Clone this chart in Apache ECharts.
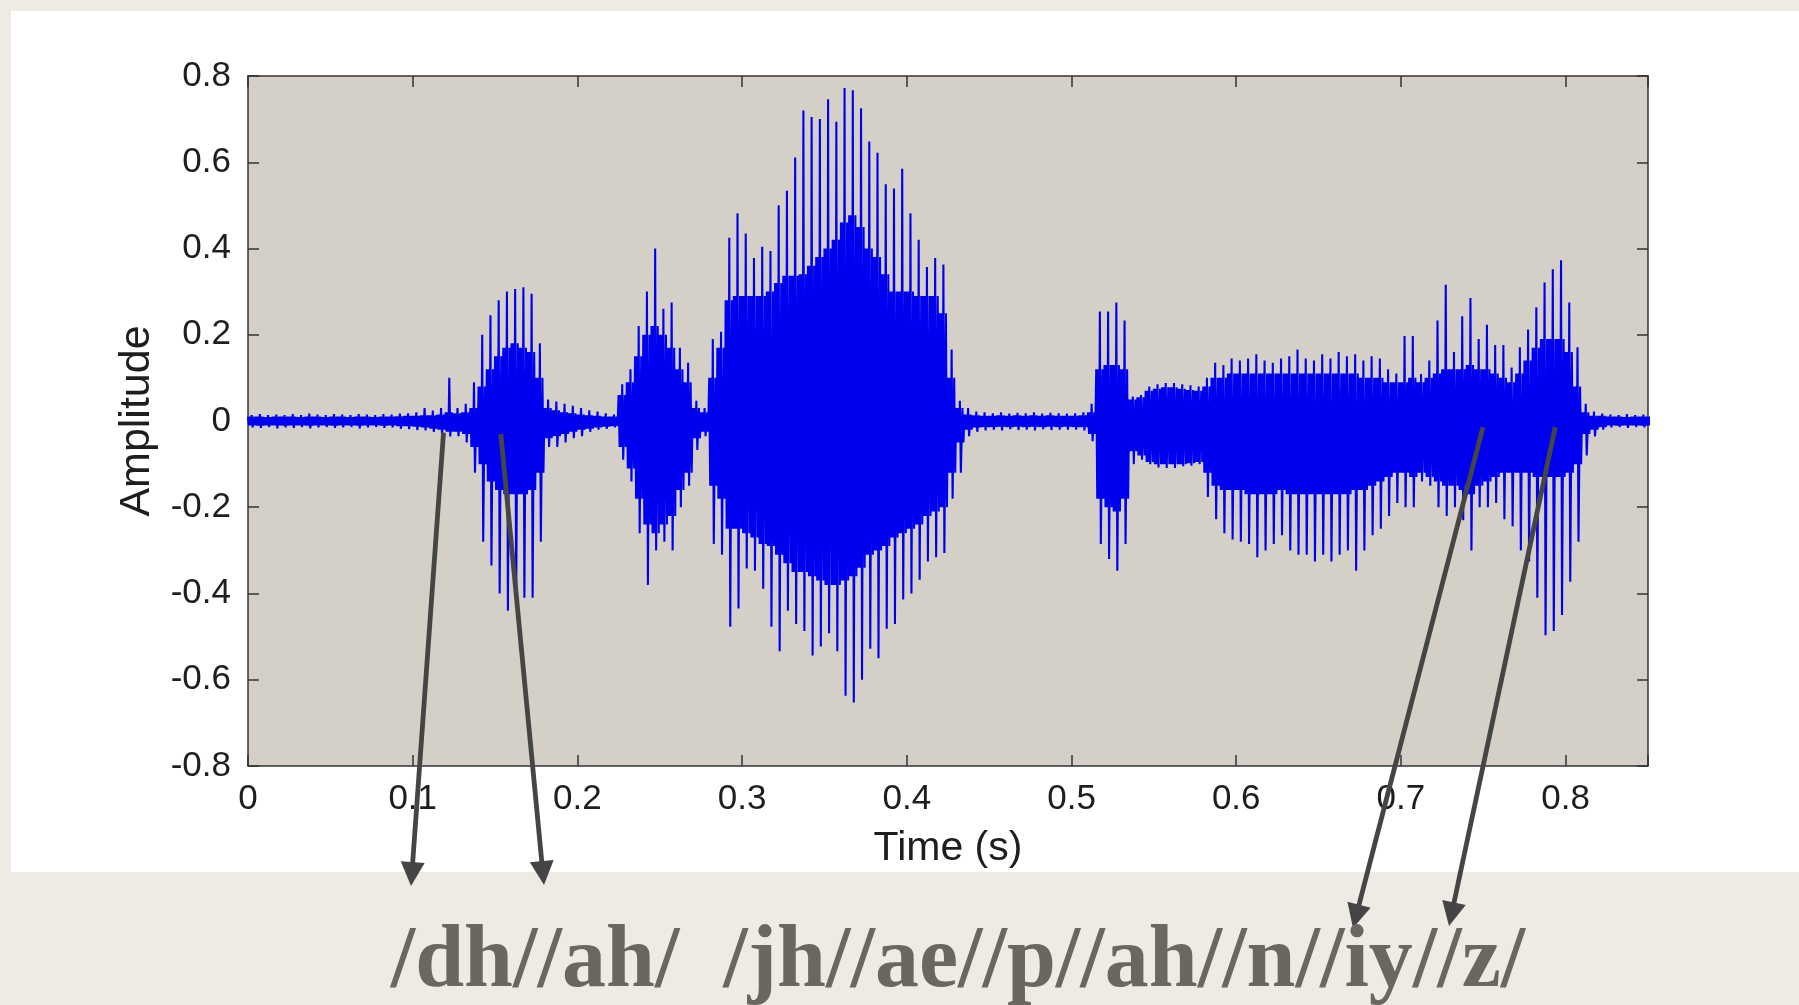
<!DOCTYPE html>
<html><head><meta charset="utf-8">
<script src="https://cdn.jsdelivr.net/npm/echarts@6/dist/echarts.min.js"></script>
<style>
html,body{margin:0;padding:0;width:1799px;height:1005px;overflow:hidden;background:#eeebe5;}
#panel{position:absolute;left:11px;top:11px;width:1788px;height:861px;background:#ffffff;}
#chart{position:absolute;left:0;top:0;width:1799px;height:1005px;}
</style></head>
<body><div id="panel"></div><div id="chart"></div>
<script>
// ---- data ----
const binWidth = 0.005; // seconds per bin, bins start at t = 0
const upPeak = [
.014,.016,.014,.015,.014,.016,.014,.017,.015,.014,
.016,.015,.014,.016,.015,.014,.016,.015,.017,.018,
.020,.030,.024,.030,.100,.030,.040,.090,.200,.245,
.280,.300,.306,.310,.295,.180,.050,.045,.040,.035,
.030,.025,.022,.018,.015,.085,.120,.220,.300,.400,
.260,.275,.170,.135,.047,.030,.190,.207,.425,.482,
.435,.378,.404,.394,.500,.534,.611,.720,.705,.700,
.746,.694,.772,.767,.725,.648,.622,.549,.539,.585,
.482,.420,.357,.378,.363,.166,.047,.030,.022,.020,
.018,.020,.017,.019,.018,.020,.017,.019,.018,.017,
.018,.020,.040,.254,.254,.275,.233,.057,.060,.080,
.085,.088,.088,.085,.083,.080,.100,.135,.130,.145,
.140,.145,.155,.140,.135,.145,.150,.166,.145,.140,
.155,.145,.160,.150,.155,.140,.150,.145,.120,.110,
.197,.197,.109,.140,.233,.316,.160,.243,.285,.190,
.223,.176,.176,.124,.171,.212,.264,.321,.352,.373,
.275,.171,.040,.022,.017,.015,.014,.016,.014,.015,
.014];
const upBody = [
.010,.010,.009,.010,.010,.010,.009,.010,.010,.009,
.010,.010,.009,.010,.010,.009,.010,.010,.011,.012,
.012,.013,.013,.015,.020,.018,.020,.030,.080,.120,
.150,.170,.180,.170,.160,.100,.030,.025,.020,.018,
.015,.013,.012,.010,.010,.060,.090,.150,.200,.220,
.200,.170,.120,.090,.030,.020,.100,.170,.280,.290,
.290,.290,.290,.300,.320,.337,.337,.340,.360,.380,
.400,.420,.460,.477,.450,.400,.380,.340,.300,.300,
.300,.290,.290,.290,.250,.100,.030,.015,.013,.012,
.012,.013,.012,.013,.012,.013,.012,.013,.012,.012,
.012,.013,.020,.120,.130,.130,.120,.050,.055,.070,
.075,.078,.078,.075,.072,.070,.080,.100,.100,.110,
.110,.110,.110,.110,.110,.110,.110,.110,.110,.110,
.110,.110,.110,.110,.110,.100,.100,.100,.090,.090,
.090,.100,.090,.100,.110,.120,.120,.120,.130,.120,
.120,.110,.100,.090,.110,.140,.170,.190,.190,.190,
.160,.080,.020,.012,.012,.010,.010,.009,.010,.010,
.010];
const loBody = [
-.010,-.011,-.010,-.010,-.011,-.010,-.010,-.011,-.010,-.010,
-.011,-.010,-.010,-.011,-.010,-.010,-.011,-.010,-.012,-.012,
-.013,-.015,-.018,-.020,-.025,-.025,-.030,-.060,-.100,-.140,
-.160,-.170,-.170,-.170,-.160,-.120,-.040,-.035,-.030,-.025,
-.020,-.018,-.015,-.013,-.012,-.060,-.110,-.180,-.240,-.260,
-.240,-.220,-.160,-.120,-.040,-.025,-.150,-.180,-.250,-.250,
-.260,-.270,-.285,-.290,-.310,-.330,-.350,-.350,-.360,-.370,
-.380,-.380,-.370,-.360,-.340,-.310,-.300,-.290,-.270,-.260,
-.250,-.240,-.220,-.210,-.200,-.120,-.050,-.020,-.015,-.014,
-.014,-.013,-.014,-.013,-.014,-.013,-.014,-.013,-.014,-.013,
-.014,-.014,-.030,-.180,-.200,-.210,-.180,-.070,-.080,-.095,
-.100,-.100,-.100,-.100,-.098,-.095,-.120,-.150,-.160,-.160,
-.160,-.170,-.170,-.170,-.170,-.160,-.170,-.170,-.170,-.170,
-.170,-.170,-.170,-.170,-.160,-.160,-.150,-.140,-.130,-.120,
-.120,-.130,-.120,-.130,-.140,-.150,-.150,-.160,-.170,-.150,
-.140,-.130,-.120,-.120,-.120,-.120,-.130,-.130,-.130,-.130,
-.120,-.100,-.030,-.020,-.014,-.010,-.011,-.010,-.010,-.011,
-.010];
const loPeak = [
-.015,-.016,-.014,-.017,-.015,-.016,-.014,-.017,-.015,-.014,
-.016,-.015,-.014,-.017,-.015,-.014,-.016,-.015,-.018,-.019,
-.021,-.022,-.025,-.030,-.036,-.035,-.050,-.120,-.280,-.335,
-.400,-.440,-.430,-.410,-.410,-.280,-.060,-.060,-.050,-.040,
-.035,-.025,-.020,-.018,-.015,-.090,-.140,-.260,-.380,-.300,
-.280,-.300,-.200,-.150,-.067,-.035,-.285,-.310,-.477,-.435,
-.342,-.347,-.389,-.477,-.534,-.440,-.471,-.487,-.544,-.523,
-.492,-.534,-.637,-.653,-.600,-.528,-.550,-.482,-.471,-.414,
-.400,-.368,-.326,-.316,-.306,-.180,-.120,-.035,-.025,-.022,
-.020,-.022,-.019,-.021,-.020,-.022,-.019,-.021,-.020,-.020,
-.020,-.022,-.047,-.285,-.320,-.347,-.285,-.100,-.090,-.100,
-.108,-.109,-.109,-.105,-.104,-.100,-.176,-.228,-.260,-.275,
-.280,-.285,-.316,-.300,-.285,-.265,-.300,-.310,-.310,-.326,
-.310,-.326,-.310,-.300,-.347,-.300,-.265,-.250,-.220,-.190,
-.200,-.200,-.140,-.150,-.200,-.220,-.200,-.230,-.300,-.200,
-.200,-.190,-.228,-.244,-.300,-.326,-.410,-.497,-.487,-.450,
-.373,-.280,-.080,-.036,-.020,-.015,-.014,-.016,-.014,-.015,
-.014];

const xTickValues = [0, 0.1, 0.2, 0.3, 0.4, 0.5, 0.6, 0.7, 0.8];
const xTickLabels = ['0', '0.1', '0.2', '0.3', '0.4', '0.5', '0.6', '0.7', '0.8'];
const yTickValues = [-0.8, -0.6, -0.4, -0.2, 0, 0.2, 0.4, 0.6, 0.8];
const yTickLabels = ['-0.8', '-0.6', '-0.4', '-0.2', '0', '0.2', '0.4', '0.6', '0.8'];

const phonemeText = '/dh//ah/  /jh//ae//p//ah//n//iy//z/';
// arrows: start at a point on the waveform (time, amplitude), end (pixel) at the phoneme text
const arrowFrom = [[0.1187, -0.027], [0.1535, -0.030], [0.7498, -0.014], [0.7937, -0.014]];
const arrowTo = [[411, 886], [544, 885], [1353, 928], [1449, 926]];

// ---- build waveform polyline from the bins ----
// each bin: a dense body zigzag and one pitch pulse (upper tip, lower tip)
const stepFrac = [0, 0.125, 0.25, 0.34, 0.44, 0.5, 0.56, 0.62, 0.75, 0.875];
const wave = [];
for (let i = 0; i < upPeak.length; i++) {
  const t = i * binWidth;
  const vals = [upBody[i], loBody[i], upBody[i], loBody[i], upPeak[i], upPeak[i], loPeak[i], loPeak[i], upBody[i], loBody[i]];
  for (let k = 0; k < stepFrac.length; k++) wave.push([t + stepFrac[k] * binWidth, vals[k]]);
}

function lab(values, labels) {
  return function (v) {
    for (let i = 0; i < values.length; i++) if (Math.abs(values[i] - v) < 1e-6) return labels[i];
    return '';
  };
}

const axisCol = '#333333';
const lblFont = 'Liberation Sans';
const chart = echarts.init(document.getElementById('chart'), null, {renderer: 'canvas'});
chart.setOption({
  animation: false,
  backgroundColor: 'transparent',
  grid: {left: 248, top: 76, width: 1400, height: 690, show: true, backgroundColor: '#d4d0c8', borderWidth: 0, containLabel: false, outerBoundsMode: 'none'},
  xAxis: [{
    type: 'value', min: 0, max: 0.85, interval: 0.1, position: 'bottom',
    axisLine: {show: true, onZero: false, lineStyle: {color: axisCol, width: 1.5}},
    axisTick: {show: true, inside: true, length: 11, lineStyle: {color: axisCol, width: 1.5}},
    axisLabel: {margin: 16, fontSize: 35, color: '#1e1e1e', fontFamily: lblFont, formatter: lab(xTickValues, xTickLabels)},
    splitLine: {show: false},
    name: 'Time (s)', nameLocation: 'middle', nameGap: 62,
    nameTextStyle: {fontSize: 41, color: '#1e1e1e', fontFamily: lblFont}
  }, {
    type: 'value', min: 0, max: 0.85, interval: 0.1, position: 'top',
    axisLine: {show: true, onZero: false, lineStyle: {color: axisCol, width: 1.5}},
    axisTick: {show: true, inside: true, length: 11, lineStyle: {color: axisCol, width: 1.5}},
    axisLabel: {show: false}, splitLine: {show: false}
  }],
  yAxis: [{
    type: 'value', min: -0.8, max: 0.8, interval: 0.2, position: 'left',
    axisLine: {show: true, onZero: false, lineStyle: {color: axisCol, width: 1.5}},
    axisTick: {show: true, inside: true, length: 11, lineStyle: {color: axisCol, width: 1.5}},
    axisLabel: {margin: 17, fontSize: 35, color: '#1e1e1e', fontFamily: lblFont, formatter: lab(yTickValues, yTickLabels)},
    splitLine: {show: false},
    name: 'Amplitude', nameLocation: 'middle', nameGap: 89,
    nameTextStyle: {fontSize: 43, color: '#1e1e1e', fontFamily: lblFont}
  }, {
    type: 'value', min: -0.8, max: 0.8, interval: 0.2, position: 'right',
    axisLine: {show: true, onZero: false, lineStyle: {color: axisCol, width: 1.5}},
    axisTick: {show: true, inside: true, length: 11, lineStyle: {color: axisCol, width: 1.5}},
    axisLabel: {show: false}, splitLine: {show: false}
  }],
  series: [{
    type: 'line', xAxisIndex: 0, yAxisIndex: 0, data: wave,
    showSymbol: false, symbol: 'none', sampling: null, clip: true,
    lineStyle: {color: '#0000f0', width: 2.1, join: 'bevel'},
    emphasis: {disabled: true}
  }]
});

// ---- annotations: arrows and phoneme text ----
const graphics = [];
const arrowCol = '#454545';
for (let i = 0; i < arrowFrom.length; i++) {
  const s = chart.convertToPixel({xAxisIndex: 0, yAxisIndex: 0}, arrowFrom[i]);
  const e = arrowTo[i];
  const dx = e[0] - s[0], dy = e[1] - s[1];
  const L = Math.sqrt(dx * dx + dy * dy);
  const ux = dx / L, uy = dy / L, nx = -uy, ny = ux;
  const headLen = 24, headHalf = 12;
  const bx = e[0] - ux * headLen, by = e[1] - uy * headLen;
  graphics.push({type: 'line', z: 100, shape: {x1: s[0], y1: s[1], x2: bx + ux * 2, y2: by + uy * 2},
    style: {stroke: arrowCol, lineWidth: 4.8}});
  graphics.push({type: 'polygon', z: 100, shape: {points: [[e[0], e[1]], [bx + nx * headHalf, by + ny * headHalf], [bx - nx * headHalf, by - ny * headHalf]]},
    style: {fill: arrowCol}});
}
graphics.push({type: 'text', z: 100, x: 958, y: 963,
  style: {text: phonemeText, fill: '#6b6760', font: 'bold 88px "Liberation Serif"', textAlign: 'center', textVerticalAlign: 'middle', verticalAlign: 'middle'}});
chart.setOption({graphic: graphics});
</script></body></html>
